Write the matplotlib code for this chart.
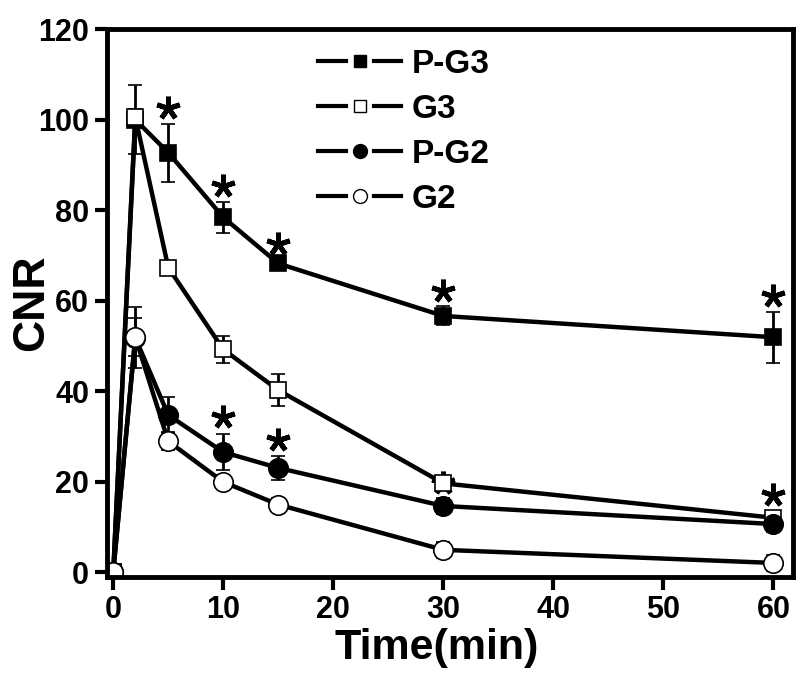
import matplotlib
matplotlib.use("Agg")
import matplotlib.pyplot as plt
from matplotlib.lines import Line2D
from matplotlib.legend_handler import HandlerBase

plt.rcParams['font.family'] = ['Liberation Sans', 'DejaVu Sans']
plt.rcParams['font.weight'] = 'bold'

time_min = [0, 2, 5, 10, 15, 30, 60]

pg3 = [0, 100, 92.7, 78.4, 68.2, 56.6, 51.9]
pg3_err = [0, 7.7, 6.4, 3.5, 1.0, 2.1, 5.6]
g3 = [0, 100.6, 67.3, 49.2, 40.2, 19.6, 12.0]
g3_err = [0, 1.8, 1.5, 3.0, 3.5, 1.0, 1.2]
pg2 = [0, 51.8, 34.7, 26.5, 23.0, 14.6, 10.6]
pg2_err = [0, 6.7, 4.0, 4.0, 2.6, 1.8, 1.8]
g2 = [0, 51.9, 28.9, 19.9, 14.9, 4.9, 2.0]
g2_err = [0, 4.2, 2.0, 1.5, 1.5, 1.8, 1.8]

# significance marks
star_x = [5, 10, 15, 30, 60, 10, 15, 30, 60]
star_y = [102.6, 85.4, 72.6, 62.2, 61.1, 34.2, 29.1, 19.6, 17.0]


class GapHandler(HandlerBase):
    # line - marker - line with small gaps, like the original legend
    def create_artists(self, legend, orig_handle, xdescent, ydescent,
                       width, height, fontsize, trans):
        y = height / 2 - ydescent
        x0 = -xdescent
        mid = x0 + width / 2
        gap = width * 0.17
        l1 = Line2D([x0, mid - gap], [y, y], color='black', lw=3)
        l2 = Line2D([mid + gap, x0 + width], [y, y], color='black', lw=3)
        mk = Line2D([mid], [y], marker=orig_handle.get_marker(),
                    markersize=orig_handle.get_markersize(),
                    markerfacecolor=orig_handle.get_markerfacecolor(),
                    markeredgecolor='black', markeredgewidth=1.0, ls='none')
        for a in (l1, l2, mk):
            a.set_transform(trans)
        return [l1, l2, mk]


fig = plt.figure(figsize=(8, 6.78), dpi=100)
ax = fig.add_axes([0.134, 0.149, 0.8575, 0.808])

series = [
    ("P-G3", pg3, pg3_err, 's', 'black', 12, 9),
    ("G3", g3, g3_err, 's', 'white', 12, 9),
    ("P-G2", pg2, pg2_err, 'o', 'black', 14, 10),
    ("G2", g2, g2_err, 'o', 'white', 14, 10),
]
handles = []
for label, y, err, m, fc, ms, lms in series:
    ax.errorbar(time_min, y, yerr=err, color='black', lw=3.2, marker=m,
                markersize=ms, markerfacecolor=fc, markeredgecolor='black',
                markeredgewidth=1.2, capsize=5, capthick=2, elinewidth=2)
    handles.append(Line2D([], [], marker=m, markersize=lms,
                          markerfacecolor=fc, color='black', label=label))

ax.plot(star_x, star_y, ls='none', marker=(5, 2, 0), markersize=17,
        markeredgewidth=3.5, color='black')

ax.set_xlim(-0.55, 61.8)
ax.set_ylim(-1.1, 120)
ax.set_xticks([0, 10, 20, 30, 40, 50, 60])
ax.set_yticks([0, 20, 40, 60, 80, 100, 120])
ax.tick_params(width=3, length=9, labelsize=22, direction='out', pad=4)
for lab in ax.get_xticklabels() + ax.get_yticklabels():
    lab.set_fontweight('bold')
for sp in ax.spines.values():
    sp.set_linewidth(3.5)

ax.set_xlabel("Time(min)", fontsize=31, fontweight='bold')
ax.set_ylabel("CNR", fontsize=32, fontweight='bold')
ax.xaxis.set_label_coords(0.48, -0.094)
ax.yaxis.set_label_coords(-0.08, 0.5)

ax.legend(handles=handles, handler_map={Line2D: GapHandler()},
          loc='upper left', bbox_to_anchor=(318 / 800, 1 - 49 / 678),
          bbox_transform=fig.transFigure, frameon=False, borderpad=0,
          borderaxespad=0, fontsize=24, handlelength=2.5,
          labelspacing=0.42, handletextpad=0.3)

fig.savefig("out.png", dpi=100)
